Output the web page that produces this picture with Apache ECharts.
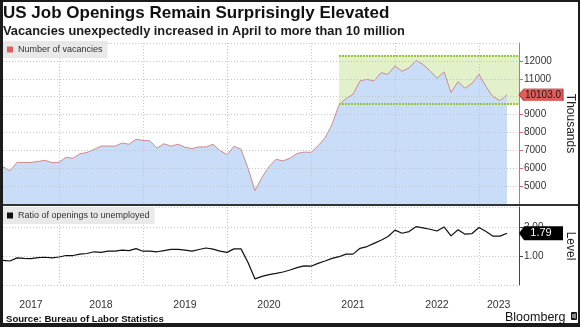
<!DOCTYPE html>
<html><head><meta charset="utf-8">
<script src="https://cdn.jsdelivr.net/npm/echarts@6/dist/echarts.min.js"></script>
<style>
html,body{margin:0;padding:0;background:#1b1b1b;width:580px;height:327px;overflow:hidden}
#card{position:absolute;left:3px;top:2px;width:575px;height:321px;background:#fff}
#chart{position:absolute;left:0;top:0;width:580px;height:327px}
</style></head><body>
<div id="card"></div><div id="chart"></div>
<script>
// x values: months since 1 Jan 2017; each monthly point sits at the end of its month (Apr 2017 -> 4)
const FIRST_MONTH = 4;
const vacancies = [
  6090, 5850, 6330, 6320, 6320, 6380, 6440, 6310, 6330, 6610, 6560, 6810,
  6880, 7050, 7240, 7240, 7230, 7410, 7340, 7620, 7550, 7530, 7120, 7370,
  7230, 7340, 7170, 7100, 7190, 7190, 7340, 6980, 6760, 7230, 7060, 6000,
  4750, 5500, 6090, 6500, 6410, 6560, 6820, 6900, 6890, 7250, 7700, 8450,
  9550, 9900, 10130, 10880, 10970, 10880, 11340, 11250, 11720, 11420, 11610, 12030,
  11800, 11450, 11030, 11390, 10230, 10840, 10470, 10750, 11250, 10560, 10000, 9780,
  10103
];
const ratio = [
  0.85, 0.83, 0.94, 0.92, 0.91, 0.95, 0.96, 0.94, 0.97, 1.02, 1.02, 1.07,
  1.09, 1.15, 1.13, 1.17, 1.17, 1.21, 1.19, 1.26, 1.17, 1.17, 1.15, 1.19,
  1.23, 1.23, 1.21, 1.17, 1.23, 1.28, 1.24, 1.17, 1.13, 1.25, 1.25, 0.78,
  0.21, 0.30, 0.36, 0.40, 0.45, 0.52, 0.60, 0.66, 0.65, 0.75, 0.83, 0.92,
  0.98, 1.07, 1.07, 1.27, 1.33, 1.44, 1.55, 1.68, 1.90, 1.79, 1.85, 2.02,
  1.98, 1.93, 1.87, 2.01, 1.70, 1.91, 1.76, 1.78, 1.99, 1.85, 1.69, 1.69,
  1.79
];
const yearLabels = ['2017', '2018', '2019', '2020', '2021', '2022', '2023'];
const yearLabelAt = [8, 18, 30, 42, 54, 66, 74.8];
const bandStart = 52;      // end of Apr 2021
const bandLow = 9610;
const bandHigh = 12270;
const seriesNames = ['Number of vacancies', 'Ratio of openings to unemployed'];

const X_MAX = 77.71;
const Y0 = [4000, 13000];
const Y1 = [0, 2.7];
const vacData = vacancies.map((v, i) => [FIRST_MONTH + i, v]);
const ratioData = ratio.map((v, i) => [FIRST_MONTH + i, v]);
const lastVac = vacancies[vacancies.length - 1];
const lastRatio = ratio[ratio.length - 1];

// time span matching the month axis, used only for the yearly vertical grid lines
const T_MIN = new Date(2017, 4, 1).getTime();
const T_MAX = new Date(2023, 5, 22).getTime();

const FONT = 'Liberation Sans';
const gridLineStyle = {color: '#c4c4c4', type: [1, 2], width: 1};

const timeGridAxis = gi => ({
  gridIndex: gi, type: 'time', min: T_MIN, max: T_MAX, position: 'top', splitNumber: 5,
  axisLine: {show: false}, axisTick: {show: false}, axisLabel: {show: false},
  splitLine: {show: true, showMinLine: false, showMaxLine: false, lineStyle: gridLineStyle},
  z: gi === 0 ? 3 : 0
});

const chart = echarts.init(document.getElementById('chart'), null, {renderer: 'canvas'});
chart.setOption({
  animation: false,
  backgroundColor: 'transparent',
  textStyle: {fontFamily: FONT},
  title: [
    {text: 'US Job Openings Remain Surprisingly Elevated', left: 3, top: 5, padding: 0,
     textStyle: {fontSize: 17, fontWeight: 'bold', color: '#111', fontFamily: FONT}},
    {text: 'Vacancies unexpectedly increased in April to more than 10 million', left: 3, top: 25, padding: 0,
     textStyle: {fontSize: 12.8, fontWeight: 'bold', color: '#1a1a1a', fontFamily: FONT}},
    {text: 'Source: Bureau of Labor Statistics', left: 6, top: 314, padding: 0,
     textStyle: {fontSize: 9.6, fontWeight: 'bold', color: '#111', fontFamily: FONT}},
    {text: 'Bloomberg', left: 505, top: 311, padding: 0,
     textStyle: {fontSize: 12.5, fontWeight: 'normal', color: '#111', fontFamily: FONT}}
  ],
  graphic: [
    {type: 'line', shape: {x1: 3, y1: 205, x2: 578, y2: 205}, style: {stroke: '#333', lineWidth: 2}, z: 10},
    {type: 'rect', shape: {x: 571, y: 312, width: 6, height: 8, r: 1}, style: {fill: '#111'}, z: 10},
    {type: 'rect', shape: {x: 572.5, y: 314, width: 1, height: 4}, style: {fill: '#fff'}, z: 11},
    {type: 'rect', shape: {x: 574.5, y: 313.5, width: 1, height: 5}, style: {fill: '#fff'}, z: 11}
  ],
  legend: [
    {data: [{name: seriesNames[0], itemStyle: {color: '#e06060'}}], left: 3, top: 41,
     padding: [4, 5, 4, 4], itemWidth: 6, itemHeight: 6, icon: 'rect',
     backgroundColor: 'rgba(228,228,228,0.8)', textStyle: {fontSize: 9, color: '#333'}},
    {data: [{name: seriesNames[1], itemStyle: {color: '#111'}}], left: 3, top: 207,
     padding: [4, 5, 4, 4], itemWidth: 6, itemHeight: 6, icon: 'rect',
     backgroundColor: 'rgba(228,228,228,0.8)', textStyle: {fontSize: 9, color: '#333'}}
  ],
  grid: [
    {left: 3, width: 516, top: 43, height: 161, outerBoundsMode: 'none', containLabel: false},
    {left: 3, width: 516, top: 207, height: 78, outerBoundsMode: 'none', containLabel: false}
  ],
  xAxis: [
    {gridIndex: 0, type: 'value', min: FIRST_MONTH, max: X_MAX, show: false},
    {gridIndex: 1, type: 'value', min: FIRST_MONTH, max: X_MAX,
     axisLine: {show: false}, axisTick: {show: false}, splitLine: {show: false},
     axisLabel: {customValues: yearLabelAt, color: '#333', fontSize: 10.5, margin: 15,
       formatter: v => yearLabels[yearLabelAt.indexOf(v)] || ''}},
    timeGridAxis(0),
    timeGridAxis(1)
  ],
  yAxis: [
    {gridIndex: 0, type: 'value', position: 'right', min: Y0[0], max: Y0[1], interval: 1000, z: 3,
     axisLine: {show: true, lineStyle: {color: '#e06a6a', width: 1}},
     axisTick: {show: true, length: 4, lineStyle: {color: '#e06a6a'}},
     axisLabel: {color: '#333', fontSize: 10, margin: 5, showMinLabel: false, showMaxLabel: false,
       formatter: v => String(v)},
     splitLine: {show: true, lineStyle: gridLineStyle},
     name: 'Thousands', nameLocation: 'middle', nameRotate: -90, nameGap: 45,
     nameTextStyle: {color: '#222', fontSize: 12}},
    {gridIndex: 1, type: 'value', position: 'right', min: Y1[0], max: Y1[1], interval: 1,
     axisLine: {show: true, lineStyle: {color: '#444', width: 1}},
     axisTick: {show: true, length: 4, lineStyle: {color: '#444'}},
     axisLabel: {color: '#333', fontSize: 10, margin: 5, showMinLabel: false, showMaxLabel: false,
       formatter: v => v.toFixed(2)},
     splitLine: {show: true, lineStyle: gridLineStyle},
     name: 'Level', nameLocation: 'middle', nameRotate: -90, nameGap: 45,
     nameTextStyle: {color: '#222', fontSize: 12}}
  ],
  series: [
    {name: seriesNames[0], type: 'line', xAxisIndex: 0, yAxisIndex: 0, data: vacData, z: 2,
     showSymbol: false, lineStyle: {color: '#d08a8a', width: 1}, itemStyle: {color: '#e06060'},
     areaStyle: {color: '#c9dcf8', opacity: 1, origin: 'start'}},
    {name: 'band', type: 'line', xAxisIndex: 0, yAxisIndex: 0, data: [], z: 4, clip: false,
     markArea: {silent: true, itemStyle: {color: 'rgba(160,210,80,0.3)', borderWidth: 0},
       data: [[{coord: [bandStart, bandLow]}, {coord: [X_MAX, bandHigh]}]]},
     markLine: {silent: true, symbol: 'none', label: {show: false},
       lineStyle: {color: '#98c43a', type: [2, 1], width: 2},
       data: [
         [{coord: [bandStart, bandHigh]}, {coord: [X_MAX, bandHigh]}],
         [{coord: [bandStart, bandLow]}, {coord: [X_MAX, bandLow]}]
       ]},
     markPoint: {silent: true, symbol: 'path://M0,6 L5,0 L45,0 L45,12 L5,12 Z', symbolSize: [44, 12],
       symbolKeepAspect: false, symbolOffset: [22, 0],
       itemStyle: {color: '#e35b5b', borderColor: '#a83a3a', borderWidth: 0.6},
       label: {show: true, position: 'inside', offset: [2, 0], color: '#1a1a1a', fontSize: 10,
         formatter: p => p.value.toFixed(1)},
       data: [{coord: [X_MAX, lastVac], value: lastVac}]}},
    {name: seriesNames[1], type: 'line', xAxisIndex: 1, yAxisIndex: 1, data: ratioData, z: 2,
     showSymbol: false, lineStyle: {color: '#111', width: 1.2}, itemStyle: {color: '#111'}},
    {name: 'last1', type: 'line', xAxisIndex: 1, yAxisIndex: 1, data: [], z: 5, clip: false,
     markPoint: {silent: true, symbol: 'path://M0,7 L5,0 L44,0 L44,14 L5,14 Z', symbolSize: [44, 14],
       symbolKeepAspect: false, symbolOffset: [22, 0],
       itemStyle: {color: '#000'},
       label: {show: true, position: 'inside', offset: [0, 0], color: '#fff', fontSize: 11,
         formatter: p => p.value.toFixed(2)},
       data: [{coord: [X_MAX, lastRatio], value: lastRatio}]}}
  ]
});
</script>
</body></html>
